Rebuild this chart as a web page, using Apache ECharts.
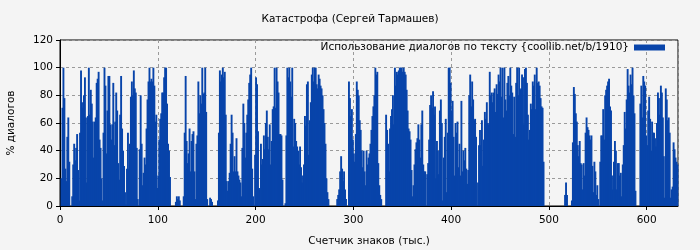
<!DOCTYPE html>
<html>
<head>
<meta charset="utf-8">
<script src="https://cdn.jsdelivr.net/npm/echarts@6/dist/echarts.min.js"></script>
<style>
html,body{margin:0;padding:0;background:#f4f4f4;}
#chart{width:700px;height:250px;}
</style>
</head>
<body>
<div id="chart"></div>
<script>
const chartTitle = 'Катастрофа (Сергей Тармашев)';
const seriesName = 'Использование диалогов по тексту {coollib.net/b/1910}';
const xName = 'Счетчик знаков (тыс.)';
const yName = '% диалогов';
const xTicks = [0, 100, 200, 300, 400, 500, 600];
const yTicks = [0, 20, 40, 60, 80, 100, 120];

// percentage of dialogue per 1000 characters in segments
const lead = [0];
const seg1 = [20,71,100,78,27,18,50,64,32,0,0,7,30,45,33,42,52,26,4,53,98,75,71,80,93,64,17,65,100,66,84,74,61,35,61,64,89,92,97,48,42,20,4,53,100,87,38,69,94,94,59,48,59,89,44,61,82,69,31,19,66,94,56,40,29,10,1,27,53,27,45,79,90,80,98,85,82,42];
const seg2 = [5,0,41,80,45,15,24,35,30,56,77,90,100,90,92,90,100,87,61,66,13,22,48,63,67,82,82,93,100,100,74,45,40,21,0,0,0,0,0,3,7,5,7,4,0,0,0,7,53,94,47,31,38,56,25,47,52,54,25,5,45,51,90,67,80,74,100,81,82,100,68,5,0,0,6,5,3,0,0,0,0,0];
const seg3 = [4,53,98,90,95,100,93,97,66,18,11,18,24,45,66,53,25,36,25,49,25,22,19,17,7,42,74,60,35,53,66,77,89,95,100,27,7,0,37,93,88,54,13,12,45,30,34,51,41,60,69,50,41,59,30,47,70,72,100,71,100,90,82,52,52,51,19,0,0,2,51,100,93,100,90,79,100,43,63,60,47,43];
const seg4 = [40,30,43,28,17,22,30,65,58,88,90,37,62,75,95,100,90,100,100,88,85,95,92,87,85,80,70,60,45,20,10,5,0,0,0,0,0,0,0,0,5,8,12,25,36,27,18,25,12,5,0,0,90,78,65,70,48,38,32,52,90,84,80,62,55,40,28,40,25,15,40,30,35,38,45,55,65,72,80,100,95,97];
const seg5 = [31,15,8,5,0,0,0,0,66,55,45,25,56,65,70,80,59,100,87,97,95,98,100,100,100,97,100,97,95,84,69,56,54,48,26,7,15,30,41,46,49,59,48,35,59,69,30,25,25,0,23,31,48,73,80,71,83,66,72,20,47,40,23,69,77,60,4,35,50,63,10,53,100,100,89,69,76,50,22,60,53,61];
const seg6 = [28,45,22,76,25,40,33,42,27,16,26,80,95,72,90,77,62,63,50,0,17,44,55,44,62,29,48,68,63,75,60,59,97,80,82,75,82,85,68,88,81,95,90,100,79,100,64,100,77,69,89,94,80,100,87,82,52,79,50,89,100,80,100,84,85,95,93,59,99,100,89,66,48,55,74,70,90,87,95,70,100,89];
const seg7 = [90,87,78,72,71,32,0,0,0,0,0,0,0,0,0,0,0,0,0,0,0,0,0,0,0,0,0,8,17,8,0,0,0,0,4,46,86,81,67,61,44,36,47,31,30,12,31,22,53,64,57,55,51,48,51,29,10,32,25,8,15,5,0,32,51,51,70,48,80,84,87,90,92,72,69,22,12,32,47,40,12,31];
const seg8 = [31,22,24,7,30,44,68,56,77,99,87,82,95,88,100,80,67,11,0,0,0,0,74,87,64,94,90,87,51,44,69,79,63,40,61,53,53,49,43,60,82,78,66,87,82,64,36,6,85,77,62,64,53,6,12,14,46,41,35,32,30];

const values = [].concat(lead, seg1, seg2, seg3, seg4, seg5, seg6, seg7, seg8);
const xMax = values.length;

const chart = echarts.init(document.getElementById('chart'), null, {renderer: 'canvas'});
const font = 'DejaVu Sans';
const fs = 10.5;
chart.setOption({
  backgroundColor: '#f4f4f4',
  animation: false,
  title: {
    text: chartTitle, left: 'center', top: 9,
    textStyle: {fontFamily: font, fontSize: fs, fontWeight: 'normal', color: '#000'}
  },
  legend: {
    data: [seriesName], right: 30, top: 37, align: 'right', icon: 'rect',
    itemWidth: 31, itemHeight: 6,
    textStyle: {fontFamily: font, fontSize: fs, color: '#000'}
  },
  grid: {
    left: 60, right: 22, top: 40, bottom: 44,
    containLabel: false, outerBoundsMode: 'none',
    show: true, borderColor: '#000', borderWidth: 1, backgroundColor: 'transparent'
  },
  xAxis: {
    type: 'value', min: xTicks[0], max: xMax, interval: 100,
    name: xName, nameLocation: 'middle', nameGap: 30,
    nameTextStyle: {fontFamily: font, fontSize: fs, color: '#000'},
    axisLine: {lineStyle: {color: '#000'}},
    axisTick: {show: true, length: 4, lineStyle: {color: '#000'}},
    axisLabel: {fontFamily: font, fontSize: fs, color: '#000', margin: 9, showMaxLabel: false,
      formatter: v => xTicks.includes(v) ? String(v) : ''},
    splitLine: {show: true, lineStyle: {color: '#9a9a9a', type: [3, 3]}}
  },
  yAxis: {
    type: 'value', min: yTicks[0], max: yTicks[yTicks.length - 1], interval: 20,
    name: yName, nameLocation: 'middle', nameGap: 43,
    nameTextStyle: {fontFamily: font, fontSize: fs, color: '#000'},
    axisLine: {show: true, lineStyle: {color: '#000'}},
    axisTick: {show: true, length: 4, lineStyle: {color: '#000'}},
    axisLabel: {fontFamily: font, fontSize: fs, color: '#000', margin: 7},
    splitLine: {show: true, lineStyle: {color: '#9a9a9a', type: [3, 3]}}
  },
  series: [{
    type: 'bar', name: seriesName,
    data: values.map((v, i) => [i + 0.5, v]),
    barWidth: 1.9,
    itemStyle: {color: '#0844aa'}
  }]
});
</script>
</body>
</html>
